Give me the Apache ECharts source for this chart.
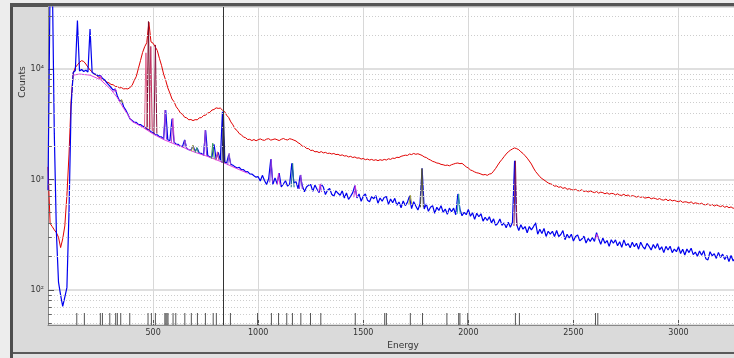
<!DOCTYPE html>
<html><head><meta charset="utf-8">
<script src="https://cdn.jsdelivr.net/npm/echarts@6/dist/echarts.min.js"></script>
<style>html,body{margin:0;padding:0;background:#dadada}#c{width:734px;height:358px}</style>
</head><body><div id="c"></div><script>
// channel width (keV) of the spectra below; channel i sits at energy i*STEP
const STEP = 10;

// blue spectrum, counts per channel (E = 0,10,20,...)
const blueCounts = [
800,60000,80000,2600,330,118,90,71,86,105,
520,4600,9300,9700,27500,9600,9900,9500,9750,9400,
23000,9300,9050,8900,8650,8700,8200,7950,7500,7150,
6800,6450,6600,5700,5150,5200,4550,4250,3900,3550,
3420,3300,3290,3150,3140,3040,2980,2850,2820,2700,
2660,2550,2540,2440,2430,2330,4250,2290,2240,3550,
2170,2090,2075,1995,1990,2280,1910,1860,1840,2020,
1800,1920,1730,1720,1670,2780,1650,1600,1590,2080,
1530,1760,1490,4100,1440,1410,1680,1370,1345,1300,
1270,1290,1225,1230,1175,1180,1125,1120,1080,1050,
1060,970,1090,980,900,1020,1520,900,1035,915,
1140,855,910,975,870,915,1400,935,955,825,
1090,880,775,855,890,900,780,890,815,760,
910,855,730,800,830,735,705,790,750,720,
790,680,755,660,705,760,880,680,740,635,
705,740,650,630,700,670,715,610,680,635,
690,700,595,665,615,675,585,625,555,640,
580,620,710,545,630,575,530,600,1260,540,
600,515,560,580,495,560,525,580,505,540,
485,550,510,550,480,740,540,470,505,480,
535,465,500,435,495,460,490,420,455,425,
460,405,440,385,400,440,385,405,365,410,
370,410,1480,390,345,390,355,375,330,375,
350,375,405,320,355,325,360,305,340,320,
340,305,345,305,318,345,285,320,295,320,
277,305,315,278,289,307,266,293,275,298,
275,330,291,259,296,265,280,248,285,265,
284,251,273,243,284,253,263,241,270,246,
265,234,271,247,235,264,248,230,258,238,
263,231,246,218,248,230,249,218,234,222,
246,214,234,207,235,218,239,209,220,202,
225,206,227,192,187,222,204,213,193,219,
197,211,189,205,181,205,183,194
];

// red spectrum, counts per channel (E = 0,10,20,...)
const redCounts = [
1300,400,375,350,330,300,242,290,380,720,
1700,5200,9200,10300,10900,11500,11900,11700,11100,10400,
9800,9400,9000,8800,8450,8300,8000,7900,7600,7500,
7250,7200,6950,6950,6750,6780,6600,6640,6600,6800,
7100,7850,8550,10100,11900,14100,15900,17300,26500,17600,
17100,15900,14700,12500,10800,9000,7900,6750,6050,5350,
5050,4550,4300,4000,3890,3660,3610,3470,3490,3410,
3480,3470,3610,3630,3790,3830,3990,4050,4250,4300,
4450,4400,4430,4240,4130,3810,3630,3320,3120,2870,
2770,2600,2540,2420,2390,2300,2310,2250,2300,2240,
2290,2330,2280,2260,2320,2340,2270,2300,2330,2290,
2250,2310,2350,2300,2280,2340,2310,2270,2230,2150,
2100,2000,1990,1910,1900,1830,1840,1780,1790,1750,
1790,1740,1760,1720,1730,1700,1720,1680,1690,1650,
1670,1630,1640,1600,1620,1580,1600,1560,1570,1530,
1550,1510,1530,1500,1520,1490,1510,1480,1510,1490,
1520,1500,1540,1520,1560,1550,1590,1580,1620,1640,
1660,1650,1700,1680,1720,1690,1710,1680,1650,1600,
1580,1530,1500,1460,1440,1410,1400,1370,1360,1340,
1350,1330,1360,1380,1400,1410,1390,1400,1350,1300,
1270,1220,1200,1170,1150,1140,1120,1100,1110,1090,
1120,1130,1190,1260,1350,1440,1520,1610,1700,1780,
1840,1890,1930,1900,1860,1780,1720,1640,1560,1470,
1380,1270,1180,1120,1060,1020,990,960,930,915,
900,870,875,850,860,830,845,815,825,812,
800,815,792,790,808,778,790,770,788,772,
760,778,752,768,760,742,758,735,748,745,
725,742,722,718,735,712,725,700,715,706,
692,705,688,700,678,685,690,668,680,672,
660,672,655,650,665,642,658,640,648,636,
630,642,620,628,625,612,628,605,615,608,
598,610,592,590,603,582,595,575,588,578,
568,580,560,572,555,565,548,560
];

// continuum (background) fit under the blue spectrum
const baseE = [120,150,200,250,300,330,360,400,450,500,550,600,650,700,750,800,850,900,950];
const baseCounts = [8800,9000,8800,8000,6500,5500,4400,3350,2980,2580,2300,2100,1930,1760,1640,1510,1380,1250,1140];

// fitted peaks: centre energy, top counts, background counts
const fitE    = [250,320,350,466,478,489,511,557,594,652,689,708,748,784,806,835,862,1062,1097,1164,1203,1295,1462,1724,1779,1954,2224,2612];
const fitTop  = [8700,6600,5300,14000,26900,16000,16500,4250,3580,2270,2050,1950,2800,2130,1780,4110,1730,1530,1140,1400,1100,910,880,720,1255,740,1475,320];
const fitBase = [8000,6200,4900,2900,2850,2750,2600,2300,2150,1930,1800,1750,1640,1540,1490,1420,1350,940,890,850,820,770,690,590,560,490,380,290];

// library line energies shown as a rug at the bottom
const rugE = [137,173,249,259,294,322,330,346,389,476,492,511,556,561,566,571,595,608,651,682,711,749,786,801,868,997,1063,1097,1136,1163,1203,1249,1298,1462,1602,1610,1724,1782,1898,1954,1960,1997,2224,2243,2605,2616];

// cursor energy
const markerE = 834;

// axis ranges / ticks
const X_MIN = 0, X_MAX = 3264, X_INTERVAL = 500;
const Y_MIN = 48.2, Y_MAX = 36400;
const yPowerLabels = {2: '10\u00B2', 3: '10\u00B3', 4: '10\u2074'};
const minorGridValues = [50,60,70,80,90,200,300,400,500,600,700,800,900,2000,3000,4000,5000,6000,7000,8000,9000,20000,30000];

// ---- styles (not data) ----
const fitColors = ['#d23cd2','#d23cd2','#b0b040','#e0608a','#7a0a2a','#c03060','#8a1040','#8c3cdc','#c846c8','#9050d0','#a8b040','#3aa070','#8c3cdc','#3a9a5a','#d04c90','#1a1a60','#9050d0','#8c3cdc','#d23cd2','#1a7090','#8c3cdc','#d23cd2','#d23cd2','#a0a040','#5a5a36','#2aa0a0','#8a1a50','#d23cd2'];
const FONT = 'DejaVu Sans';

const toPairs = arr => arr.map((v, i) => [i * STEP, v]);

const fitSeries = fitE.map((e, i) => ({
  type: 'line', silent: true, symbol: 'none', z: 4,
  data: [[e - 7, fitBase[i]], [e, fitTop[i]], [e + 7, fitBase[i]]],
  lineStyle: {color: fitColors[i], width: 1}
}));

const chart = echarts.init(document.getElementById('c'), null, {renderer: 'canvas'});
chart.setOption({
  animation: false,
  backgroundColor: '#dadada',
  grid: {left: 48, top: 7, right: 0, bottom: 33, show: true, backgroundColor: '#ffffff', borderWidth: 0, outerBoundsMode: 'none', containLabel: false},
  xAxis: {
    type: 'value', min: X_MIN, max: X_MAX, interval: X_INTERVAL,
    axisLine: {show: true, lineStyle: {color: '#888', width: 1}},
    axisTick: {show: true, inside: true, length: 5, lineStyle: {color: '#555'}},
    axisLabel: {showMinLabel: false, showMaxLabel: false, color: '#333', fontSize: 8, fontFamily: FONT, margin: 4,
      formatter: v => (v % X_INTERVAL === 0 ? String(v) : '')},
    splitLine: {show: true, lineStyle: {color: '#d8d8d8', width: 1}}
  },
  yAxis: {
    type: 'log', logBase: 10, min: Y_MIN, max: Y_MAX,
    axisLine: {show: true, lineStyle: {color: '#888', width: 1}},
    axisTick: {show: true, inside: true, length: 6, lineStyle: {color: '#555'}},
    axisLabel: {
      showMinLabel: false, showMaxLabel: false, color: '#333', fontSize: 8, fontFamily: FONT, margin: 4,
      formatter: v => { const l = Math.log10(v); const p = Math.round(l); return Math.abs(l - p) < 0.01 && yPowerLabels[p] ? yPowerLabels[p] : ''; }
    },
    splitLine: {show: true, lineStyle: {color: '#d4d4d4', width: 1.5}}
  },
  graphic: [
    {type: 'rect', shape: {x: 0, y: 0, width: 10, height: 358}, style: {fill: '#ededed'}, silent: true},
    {type: 'rect', shape: {x: 0, y: 0, width: 734, height: 3}, style: {fill: '#ededed'}, silent: true},
    {type: 'rect', shape: {x: 10, y: 3, width: 3, height: 355}, style: {fill: '#4d4d4d'}, silent: true},
    {type: 'rect', shape: {x: 10, y: 3, width: 724, height: 4}, style: {fill: '#555555'}, silent: true},
    {type: 'rect', shape: {x: 13, y: 352, width: 721, height: 2}, style: {fill: '#5a5a5a'}, silent: true},
    {type: 'rect', shape: {x: 13, y: 354, width: 721, height: 4}, style: {fill: '#e2e2e2'}, silent: true},
    {type: 'text', x: 22.5, y: 82, rotation: Math.PI / 2, silent: true,
      style: {text: 'Counts', font: '9px ' + FONT, fill: '#333', align: 'center', verticalAlign: 'middle'}},
    {type: 'text', x: 403, y: 345.5, silent: true,
      style: {text: 'Energy', font: '9px ' + FONT, fill: '#333', align: 'center', verticalAlign: 'middle'}}
  ],
  series: [
    {
      type: 'line', name: 'grid', silent: true, z: 1, symbol: 'none', data: [[X_MIN, 100]], lineStyle: {width: 0},
      markLine: {
        silent: true, symbol: 'none', animation: false, label: {show: false},
        lineStyle: {color: '#cdcdcd', type: [1, 2], width: 1},
        data: minorGridValues.map(v => ({yAxis: v}))
          .concat(minorGridValues.map(v => [
            {coord: [X_MIN, v], lineStyle: {color: '#666', type: 'solid', width: 1}},
            {coord: [18, v]}
          ]))
      }
    },
    {
      type: 'line', name: 'red', symbol: 'none', z: 3, data: toPairs(redCounts),
      lineStyle: {color: '#e00000', width: 1},
      markLine: {
        silent: true, symbol: 'none', animation: false, label: {show: false},
        lineStyle: {color: '#333', type: 'solid', width: 1},
        data: [{xAxis: markerE}]
      }
    },
    {type: 'line', name: 'blue', symbol: 'none', z: 3, data: toPairs(blueCounts), lineStyle: {color: '#0000ee', width: 1.2}},
    {type: 'line', name: 'continuum', symbol: 'none', z: 4, silent: true, data: baseE.map((e, i) => [e, baseCounts[i]]), lineStyle: {color: '#e040e0', width: 1}},
    ...fitSeries,
    {
      type: 'custom', name: 'rug', silent: true, z: 5,
      data: rugE.map(e => [e, Y_MIN]),
      encode: {x: 0, y: 1},
      renderItem: (params, api) => {
        const p = api.coord([api.value(0), Y_MIN]);
        return {type: 'line', shape: {x1: p[0], y1: p[1], x2: p[0], y2: p[1] - 12}, style: {stroke: '#555', lineWidth: 1}};
      }
    }
  ]
});
</script></body></html>
